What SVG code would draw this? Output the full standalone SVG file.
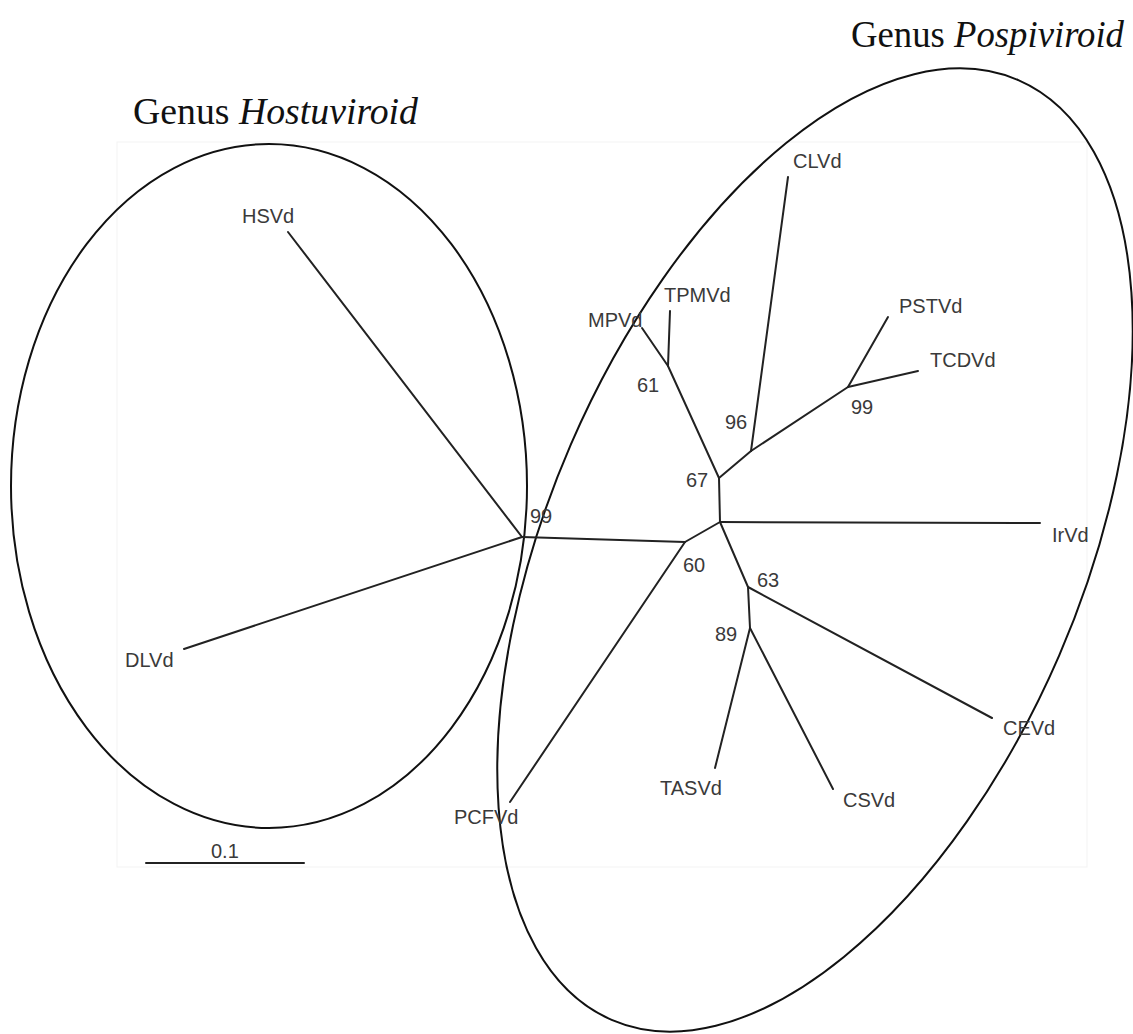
<svg xmlns="http://www.w3.org/2000/svg" width="1133" height="1034" viewBox="0 0 1133 1034">
<style>
.br{stroke:#222;stroke-width:2;fill:none;stroke-linecap:round;stroke-linejoin:round}
.lab{font-family:"Liberation Sans",Arial,sans-serif;font-size:20px;fill:#3a3a3a}
.title{font-family:"Liberation Serif","Times New Roman",serif;font-size:37px;fill:#111}
.grp{stroke:#111;stroke-width:2;fill:none}
</style>
<rect x="117" y="142" width="970" height="725" fill="none" stroke="#f3f3f3" stroke-width="1"/>
<g id="groups">
<ellipse id="hostuviroid-ellipse" class="grp" cx="269" cy="486" rx="258" ry="342"/>
<ellipse id="pospiviroid-ellipse" class="grp" cx="815" cy="550" rx="266" ry="512" transform="rotate(23.4 815 550)"/>
</g>
<g id="titles">
<text class="title" x="133" y="124" textLength="285" lengthAdjust="spacingAndGlyphs">Genus <tspan font-style="italic">Hostuviroid</tspan></text>
<text class="title" x="851" y="47" textLength="273" lengthAdjust="spacingAndGlyphs">Genus <tspan font-style="italic">Pospiviroid</tspan></text>
</g>
<g id="connectors">
<path class="br" d="M522,537 L288,232"/>
<path class="br" d="M522,537 L184,649"/>
<path class="br" d="M522,537 L685,542"/>
<path class="br" d="M685,542 L510,802"/>
<path class="br" d="M685,542 L720,522"/>
<path class="br" d="M720,522 L1040,523"/>
<path class="br" d="M720,522 L748,587"/>
<path class="br" d="M748,587 L992,718"/>
<path class="br" d="M748,587 L750,628"/>
<path class="br" d="M750,628 L715,768"/>
<path class="br" d="M750,628 L833,789"/>
<path class="br" d="M720,522 L719,478"/>
<path class="br" d="M719,478 L668,366"/>
<path class="br" d="M668,366 L642,328"/>
<path class="br" d="M668,366 L670,311"/>
<path class="br" d="M719,478 L751,451"/>
<path class="br" d="M751,451 L788,177"/>
<path class="br" d="M751,451 L848,387"/>
<path class="br" d="M848,387 L888,317"/>
<path class="br" d="M848,387 L918,371"/>
<path class="br" d="M146,863 L304,863"/>
</g>
<g id="leaves">
<g id="HSVd"><text class="lab" x="242" y="223">HSVd</text></g>
<g id="DLVd"><text class="lab" x="125" y="667">DLVd</text></g>
<g id="PCFVd"><text class="lab" x="454" y="824">PCFVd</text></g>
<g id="TASVd"><text class="lab" x="660" y="795">TASVd</text></g>
<g id="CSVd"><text class="lab" x="843" y="807">CSVd</text></g>
<g id="CEVd"><text class="lab" x="1003" y="735">CEVd</text></g>
<g id="IrVd"><text class="lab" x="1052" y="542">IrVd</text></g>
<g id="TCDVd"><text class="lab" x="930" y="367">TCDVd</text></g>
<g id="PSTVd"><text class="lab" x="899" y="313">PSTVd</text></g>
<g id="CLVd"><text class="lab" x="793" y="168">CLVd</text></g>
<g id="TPMVd"><text class="lab" x="664" y="302">TPMVd</text></g>
<g id="MPVd"><text class="lab" x="588" y="327">MPVd</text></g>
</g>
<g id="support">
<g id="n99a"><text class="lab" x="530" y="523">99</text></g>
<g id="n60"><text class="lab" x="683" y="572">60</text></g>
<g id="n63"><text class="lab" x="757" y="587">63</text></g>
<g id="n89"><text class="lab" x="715" y="641">89</text></g>
<g id="n67"><text class="lab" x="686" y="487">67</text></g>
<g id="n61"><text class="lab" x="637" y="392">61</text></g>
<g id="n96"><text class="lab" x="725" y="429">96</text></g>
<g id="n99b"><text class="lab" x="851" y="414">99</text></g>
<g id="scale"><text class="lab" x="211" y="858">0.1</text></g>
</g>
</svg>
